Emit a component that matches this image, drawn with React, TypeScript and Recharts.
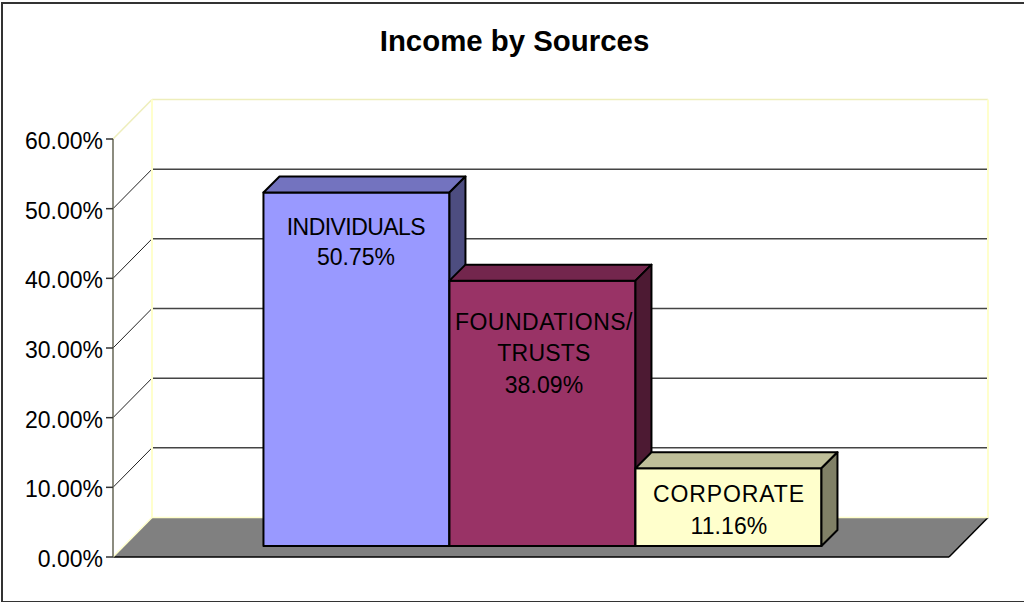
import { BarChart, Bar, XAxis, YAxis, CartesianGrid, LabelList } from 'recharts'

// ─── Data ─────────────────────────────────────────────────────────────────────

const categories = ['Income']
const individuals = [50.75]
const foundations = [38.09]
const corporate = [11.16]
const yTicks = [0, 10, 20, 30, 40, 50, 60]

const individualsLabel = ['INDIVIDUALS', '50.75%']
const foundationsLabel = ['FOUNDATIONS/', 'TRUSTS', '38.09%']
const corporateLabel = ['CORPORATE', '11.16%']

const rows = categories.map((name, i) => ({
  name,
  individuals: individuals[i],
  foundations: foundations[i],
  corporate: corporate[i],
}))

// ─── 3D layout ────────────────────────────────────────────────────────────────

const FONT = '"Liberation Sans", Arial, sans-serif'
const WALL_DX = 39
const WALL_DY = 39.5
const BAR_DEPTH = 16
// bars stand in the middle of the floor
const BAR_SHIFT_X = 11.1
const BAR_SHIFT_Y = 11

function Box3D({ x, y, width, height, front, top, side }: any) {
  const l = x + BAR_SHIFT_X
  const r = l + width
  const t = y - BAR_SHIFT_Y
  const b = t + height
  const d = BAR_DEPTH
  return (
    <g stroke="#000" strokeWidth={2} strokeLinejoin="round">
      <rect x={l} y={t} width={width} height={height} fill={front} />
      <polygon points={`${l},${t} ${l + d},${t - d} ${r + d},${t - d} ${r},${t}`} fill={top} />
      <polygon points={`${r},${t} ${r + d},${t - d} ${r + d},${b - d} ${r},${b}`} fill={side} />
    </g>
  )
}

// Draws each gridline as a slanted piece on the side wall plus a run along the back wall
function WallLine(props: any) {
  const { x1, x2, y1, y, height } = props
  const dx = WALL_DX
  const dy = WALL_DY
  if (y1 >= y + height - 0.5) {
    return (
      <g>
        <polygon
          points={`${x1},${y1} ${x1 + dx},${y1 - dy} ${x2 + dx},${y1 - dy} ${x2},${y1}`}
          fill="#808080"
        />
        <line x1={x1} y1={y1} x2={x2} y2={y1} stroke="#000" strokeWidth={1.5} />
        <line x1={x2} y1={y1} x2={x2 + dx} y2={y1 - dy} stroke="#000" strokeWidth={1.5} />
        <line x1={x1} y1={y1} x2={x1 + dx} y2={y1 - dy} stroke="#ffffcc" strokeWidth={1.5} />
        <line x1={x1 + dx} y1={y1 - dy} x2={x2 + dx} y2={y1 - dy} stroke="#ffffcc" strokeWidth={1.5} />
      </g>
    )
  }
  if (y1 <= y + 0.5) {
    return (
      <g stroke="#eeeebb" strokeWidth={1.5}>
        <line x1={x1} y1={y1} x2={x1 + dx} y2={y1 - dy} />
        <line x1={x1 + dx} y1={y1 - dy} x2={x2 + dx} y2={y1 - dy} />
        <line x1={x1 + dx} y1={y1 - dy} x2={x1 + dx} y2={y + height - dy} stroke="#ffffcc" strokeWidth={2} />
        <line x1={x2 + dx} y1={y1 - dy} x2={x2 + dx} y2={y + height - dy} stroke="#ffffcc" strokeWidth={2} />
      </g>
    )
  }
  return (
    <g fill="none">
      <line x1={x1} y1={y1} x2={x1 + dx} y2={y1 - dy} stroke="#222" strokeWidth={1} />
      <line x1={x1 + dx} y1={y1 - dy} x2={x2 + dx} y2={y1 - dy} stroke="#444" strokeWidth={1.5} />
    </g>
  )
}

// Multi-line caption inside the front face of a bar; firstLine is measured from the bar top
function barLabel(lines: string[], firstLine: number, pitch: number, spacing: number[], nudge = 0) {
  return (props: any) => {
    const cx = props.x + BAR_SHIFT_X + props.width / 2 + nudge
    const top = props.y - BAR_SHIFT_Y
    return (
      <text textAnchor="middle" fontFamily={FONT} fontSize={23} fill="#000">
        {lines.map((line, i) => (
          <tspan key={line} x={cx} y={top + firstLine + i * pitch} letterSpacing={spacing[i]}>{line}</tspan>
        ))}
      </text>
    )
  }
}

function YTick({ x, y, payload }: any) {
  return (
    <text x={x} y={y + 10} textAnchor="end" fontFamily={FONT} fontSize={23} fill="#000">
      {`${payload.value.toFixed(2)}%`}
    </text>
  )
}

export default function App() {
  return (
    <div style={{ position: 'absolute', left: 0, top: 0, width: 1024, height: 602, overflow: 'hidden', background: '#fff' }}>
      {/* chart frame runs past the right edge */}
      <div style={{ position: 'absolute', left: 1, top: 2, width: 1040, height: 597, border: '2px solid #333' }} />
      <BarChart
        width={1024}
        height={602}
        data={rows}
        margin={{ top: 139, right: 75, bottom: 45, left: 0 }}
        barCategoryGap="16.67%"
        barGap={0}
        style={{ position: 'absolute', left: 0, top: 0 }}
      >
        <CartesianGrid vertical={false} horizontal={(p: any) => <WallLine key={p.key} {...p} />} />
        <XAxis dataKey="name" hide />
        <YAxis
          width={113}
          domain={[0, 60]}
          ticks={yTicks}
          interval={0}
          tick={(p: any) => <YTick {...p} />}
          tickSize={7}
          tickMargin={3}
          axisLine={{ stroke: '#666655', strokeWidth: 1.5 }}
          tickLine={{ stroke: '#333', strokeWidth: 1.5 }}
        />
        <Bar
          dataKey="individuals"
          isAnimationActive={false}
          shape={(p: any) => <Box3D {...p} front="#9999ff" top="#7373bf" side="#4d4d80" />}
        >
          <LabelList content={barLabel(individualsLabel, 43, 30, [-0.55, 0], -0.5)} />
        </Bar>
        <Bar
          dataKey="foundations"
          isAnimationActive={false}
          shape={(p: any) => <Box3D {...p} front="#993366" top="#73264d" side="#4d1a33" />}
        >
          <LabelList content={barLabel(foundationsLabel, 49, 31.5, [0.5, 0.2, 0.1], 1.5)} />
        </Bar>
        <Bar
          dataKey="corporate"
          isAnimationActive={false}
          shape={(p: any) => <Box3D {...p} front="#ffffcc" top="#bfbf99" side="#808066" />}
        >
          <LabelList content={barLabel(corporateLabel, 34, 32, [0.9, 0.1], 0.5)} />
        </Bar>
        <text x={514.5} y={51} textAnchor="middle" fontFamily={FONT} fontSize={29.4} fontWeight="bold" fill="#000">
          Income by Sources
        </text>
      </BarChart>
    </div>
  )
}
